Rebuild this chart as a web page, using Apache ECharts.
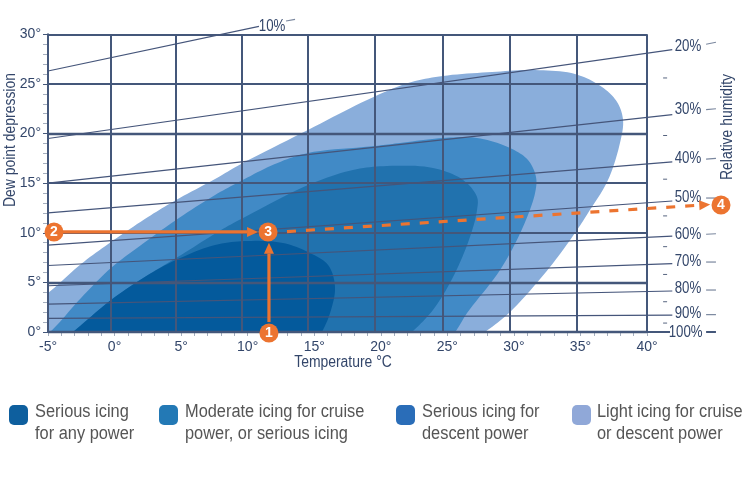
<!DOCTYPE html>
<html><head><meta charset="utf-8">
<style>html,body{margin:0;padding:0;background:#fff}#c{width:745px;height:485px}</style>
<script src="https://cdn.jsdelivr.net/npm/echarts@6/dist/echarts.min.js"></script>
</head><body><div id="c"></div>
<script>
const FONT = '"Liberation Sans",sans-serif';
const INK = '#44577a';
const TEXT = '#33466a';
const ORANGE = '#ec7430';
// zones: [temperature, dew point depression]
const lightZone = [[-7.5,1.5],[-5,3.93],[-2.52,6.85],[-0.27,9.07],[2.51,11.59],[4.62,13.3],[7.55,15.42],[9.5,16.93],[14.53,20.36],[18.97,23.38],[22.05,25.09],[24.67,25.8],[28.36,26.2],[31.59,26.4],[34.59,26],[36.62,24.69],[37.75,23.18],[38.2,21.36],[37.97,19.05],[37.07,15.32],[35.57,11.99],[34.59,9.98],[32.71,6.55],[29.71,2.02],[27.83,0],[25.5,-2],[10,-5],[-9,-4]];
const moderateZone = [[-7,-2.2],[-4.85,0],[-2.52,3.43],[-0.27,6.45],[2.51,9.27],[4.62,11.29],[7.55,13.81],[9.5,15.22],[12,16.9],[14.53,18.04],[19.57,18.74],[21.45,19.05],[24.67,19.55],[27.23,19.55],[29.71,18.54],[31.06,17.33],[31.66,15.62],[31.59,14.01],[30.68,10.58],[28.96,6.25],[26.48,1.91],[25.58,0],[24,-2.2],[10,-5],[-7,-4]];
const descentZone = [[-5,-2],[-3.12,0],[-0.27,3.22],[2.51,5.74],[5,7.76],[8,10.28],[9.8,11.59],[14.53,14.81],[17.91,16.33],[20.47,16.73],[23.92,16.53],[26.18,15.32],[27.23,13.6],[27.23,12.29],[26.7,9.57],[25.43,5.54],[23.92,2.22],[22.35,0],[20.5,-2.2],[10,-5],[-5,-4]];
const severeZone = [[-5,-2],[-3.12,0],[-0.27,3.22],[2.51,5.74],[4.62,7.26],[7.55,8.77],[10.03,9.17],[12.65,8.97],[14.53,8.06],[16.04,6.75],[16.56,4.53],[16.19,1.91],[15.58,0],[14.7,-2],[5,-5],[-5,-4]];
// axes and grid
const xGridTemps = [-5,-0.27,4.62,9.57,14.53,19.57,24.67,29.71,34.74,40];
const yGridDepressions = [10,15,25,30];
const yHeavyDepressions = [0,5,20];
// humidity curves
const humidityLabels = ['10%','20%','30%','40%','50%','60%','70%','80%','90%','100%'];
const humidityStartY = [26.3,19.5,15.0,12.0,8.76,6.7,4.66,2.8,1.38,0];
const humidityEndX = [10.85,41.9,41.9,41.9,41.9,41.9,41.9,41.9,41.9,41.73];
const humidityEndY = [30.8,28.45,21.9,17.15,13.2,9.67,6.9,4.13,1.71,0];
const labelX = [11.83,43.08,43.08,43.08,43.08,43.08,43.08,43.08,43.08,42.9];
const labelY = [30.84,28.8,22.4,17.5,13.6,9.88,7.16,4.43,1.91,0];
const stubStartX = [12.88,44.44,44.44,44.44,44.44,44.44,44.44,44.44,44.44,44.44];
const stubEndX = [13.56,45.18,45.18,45.18,45.18,45.18,45.18,45.18,45.18,45.18];
const stubStartY = [31.34,29.0,22.4,17.42,13.5,9.85,7.05,4.23,1.75,0];
const stubEndY = [31.5,29.2,22.5,17.5,13.5,9.9,7.05,4.23,1.75,0];
const midDashY = [25.6,19.8,15.4,11.7,8.6,5.8,3.05,0.9];
const midDashX = 41.36;
// worked example
const steps = [['1',11.6,-0.1],['2',-4.55,10.08],['3',11.53,10.08],['4',45.56,12.8]];
const arrowUp = [11.6,1,11.6,9.0];
const arrowAcross = [-4.55,10.08,10.78,10.08];
const arrowDashed = [11.53,10.0,44.75,12.85];
// legend
const legendLines = [['Serious icing','for any power'],['Moderate icing for cruise','power, or serious icing'],['Serious icing for','descent power'],['Light icing for cruise','or descent power']];
const legendColors = ['#0e5f9e','#2379b5','#2a6db8','#90a8d8'];
const legendSwatchX = [9,159,396,572];
const legendTextX = [35,185,422,597];

// Rounds the outline between the read points when it is drawn on screen (centripetal Catmull-Rom).
function roundOutline(P){
  const out=[], n=P.length, steps=10;
  const lerp=(a,b,t0,t1,t)=>{const k=t1===t0?0:(t-t0)/(t1-t0);return [a[0]+(b[0]-a[0])*k,a[1]+(b[1]-a[1])*k];};
  for(let i=0;i<n;i++){
    const p0=P[(i-1+n)%n],p1=P[i],p2=P[(i+1)%n],p3=P[(i+2)%n];
    const d=(a,b)=>Math.pow(Math.hypot(a[0]-b[0],a[1]-b[1]),0.5)||1e-3;
    const t0=0,t1=t0+d(p0,p1),t2=t1+d(p1,p2),t3=t2+d(p2,p3);
    for(let s=0;s<steps;s++){
      const t=t1+(t2-t1)*s/steps;
      const a1=lerp(p0,p1,t0,t1,t),a2=lerp(p1,p2,t1,t2,t),a3=lerp(p2,p3,t2,t3,t);
      const b1=lerp(a1,a2,t0,t2,t),b2=lerp(a2,a3,t1,t3,t);
      out.push(lerp(b1,b2,t1,t2,t));
    }
  }
  return out;
}
function zoneSeries(name, pts, color, z){
  return {type:'custom',name,coordinateSystem:'cartesian2d',clip:true,z,silent:true,animation:false,
    data:[pts[0]],
    renderItem:(p,api)=>({type:'polygon',shape:{points:roundOutline(pts.map(q=>api.coord(q)))},style:{fill:color}})};
}
function segmentSeries(name, rows, styleOf, z){
  return {type:'custom',name,coordinateSystem:'cartesian2d',clip:false,z,silent:true,animation:false,
    data:rows,
    renderItem:(p,api)=>{
      const a=api.coord([api.value(0),api.value(1)]), b=api.coord([api.value(2),api.value(3)]);
      return {type:'line',shape:{x1:a[0],y1:a[1],x2:b[0],y2:b[1]},style:Object.assign({fill:null},styleOf(p.dataIndex))};
    }};
}
function arrowSeries(name, seg, dash){
  return {type:'custom',name,coordinateSystem:'cartesian2d',clip:false,z:8,silent:true,animation:false,
    data:[seg],
    renderItem:(p,api)=>{
      const a=api.coord([seg[0],seg[1]]), b=api.coord([seg[2],seg[3]]);
      const L=Math.hypot(b[0]-a[0],b[1]-a[1]), ux=(b[0]-a[0])/L, uy=(b[1]-a[1])/L, h=11, w=5;
      const base=[b[0]-ux*h,b[1]-uy*h];
      return {type:'group',children:[
        {type:'line',shape:{x1:a[0],y1:a[1],x2:base[0],y2:base[1]},style:{stroke:ORANGE,lineWidth:3.2,lineDash:dash||null,fill:null}},
        {type:'polygon',shape:{points:[b,[base[0]-uy*w,base[1]+ux*w],[base[0]+uy*w,base[1]-ux*w]]},style:{fill:ORANGE}}
      ]};
    }};
}
const series = [
  zoneSeries('Light icing',lightZone,'#8aaedb',1),
  zoneSeries('Moderate icing',moderateZone,'#418ac6',2),
  zoneSeries('Serious descent',descentZone,'#2172ae',3),
  zoneSeries('Serious any',severeZone,'#045a9c',4),
  {type:'line',name:'grid',data:[],z:5,silent:true,animation:false,markLine:{silent:true,symbol:'none',animation:false,label:{show:false},
    data:[
      ...xGridTemps.map(v=>({xAxis:v,lineStyle:{color:INK,width:2,type:'solid'}})),
      ...yGridDepressions.map(v=>({yAxis:v,lineStyle:{color:INK,width:1.8,type:'solid'}})),
      ...yHeavyDepressions.map(v=>({yAxis:v,lineStyle:{color:INK,width:2.4,type:'solid'}}))
    ]}},
  segmentSeries('humidity lines',humidityLabels.map((n,i)=>[-5,humidityStartY[i],humidityEndX[i],humidityEndY[i]]),
    i=>i===9?{stroke:INK,lineWidth:2}:{stroke:'#45557a',lineWidth:1.2},6),
  segmentSeries('humidity stubs',humidityLabels.map((n,i)=>[stubStartX[i],stubStartY[i],stubEndX[i],stubEndY[i]]),
    i=>i===9?{stroke:INK,lineWidth:2}:{stroke:'#7a879e',lineWidth:1.2},6),
  {type:'custom',name:'humidity labels',coordinateSystem:'cartesian2d',clip:false,z:7,silent:true,animation:false,
    data:humidityLabels.map((n,i)=>[labelX[i],labelY[i]]),
    renderItem:(p,api)=>{
      const c=api.coord([api.value(0),api.value(1)]);
      return {type:'text',x:c[0],y:c[1],scaleX:0.78,style:{text:humidityLabels[p.dataIndex],fill:TEXT,font:'17px '+FONT,textAlign:'center',textVerticalAlign:'middle'}};
    }},
  {type:'scatter',name:'minor marks',clip:false,z:6,silent:true,animation:false,symbol:'rect',symbolSize:[4,1],itemStyle:{color:'#56647f',opacity:1},
    data:midDashY.map(y=>[midDashX,y])},
  arrowSeries('arrow up',arrowUp),
  arrowSeries('arrow across',arrowAcross),
  arrowSeries('arrow dashed',arrowDashed,[9,10]),
  {type:'scatter',name:'steps',clip:false,z:9,silent:true,animation:false,symbolSize:19,itemStyle:{color:ORANGE,opacity:1},
    data:steps.map(s=>({value:[s[1],s[2]],label:{show:true,position:'inside',formatter:s[0],color:'#fff',fontWeight:'bold',fontFamily:FONT,fontSize:14}}))}
];
const graphic = [
  {type:'text',rotation:Math.PI/2,x:11,y:140,scaleX:0.87,style:{text:'Dew point depression',fill:TEXT,font:'16px '+FONT,textAlign:'center',textVerticalAlign:'middle'}},
  {type:'text',rotation:Math.PI/2,x:728,y:127,scaleX:0.87,style:{text:'Relative humidity',fill:TEXT,font:'16px '+FONT,textAlign:'center',textVerticalAlign:'middle'}},
  {type:'text',x:343,y:363,scaleX:0.87,style:{text:'Temperature °C',fill:TEXT,font:'16px '+FONT,textAlign:'center',textVerticalAlign:'middle'}}
];
legendLines.forEach((lines,i)=>{
  graphic.push({type:'rect',shape:{x:legendSwatchX[i],y:405,width:19,height:20,r:5},style:{fill:legendColors[i]}});
  graphic.push({type:'text',x:legendTextX[i],y:412,scaleX:0.91,style:{text:lines[0],fill:'#555',font:'18px '+FONT,textVerticalAlign:'middle'}});
  graphic.push({type:'text',x:legendTextX[i],y:434,scaleX:0.91,style:{text:lines[1],fill:'#555',font:'18px '+FONT,textVerticalAlign:'middle'}});
});
const axisLabel = {color:TEXT,fontFamily:FONT,fontSize:14,formatter:'{value}°'};
const chart = echarts.init(document.getElementById('c'),null,{renderer:'canvas'});
chart.setOption({
  animation:false,
  grid:{left:48,right:98,top:34.3,bottom:153,containLabel:false},
  xAxis:{type:'value',min:-5,max:40,interval:5,axisLine:{show:true,onZero:false,lineStyle:{color:INK,width:2}},
    axisTick:{show:true,length:4,lineStyle:{color:'#a5afbf',width:1}},
    minorTick:{show:true,splitNumber:5,length:4,lineStyle:{color:'#a5afbf',width:1}},
    splitLine:{show:false},axisLabel:{...axisLabel,margin:8}},
  yAxis:{type:'value',min:0,max:30,interval:5,axisLine:{show:true,onZero:false,lineStyle:{color:INK,width:2}},
    axisTick:{show:true,length:5,lineStyle:{color:INK,width:1}},
    minorTick:{show:true,splitNumber:5,length:5,lineStyle:{color:'#a5afbf',width:1}},
    splitLine:{show:false},axisLabel:{...axisLabel,margin:7}},
  series,graphic
});
</script></body></html>
